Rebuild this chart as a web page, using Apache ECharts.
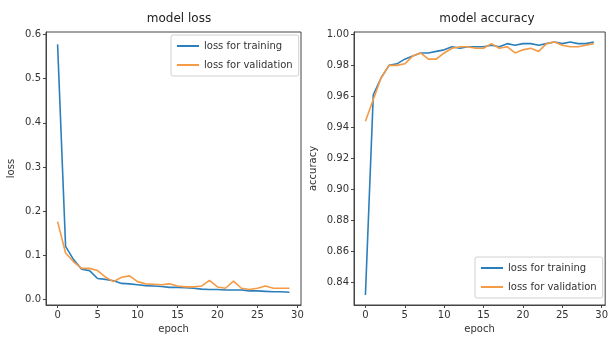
<!doctype html>
<html>
<head>
    <meta charset="UTF-8">
    <title>model loss / model accuracy</title>
    <script src="https://cdn.jsdelivr.net/npm/echarts@6/dist/echarts.min.js"></script>
    <style>
        html, body { margin: 0; padding: 0; background: #fff; }
        #main { width: 611px; height: 345px; }
    </style>
</head>
<body>
<div id="main"></div>
<script type="text/javascript">
    // epochs 0..29
    var epochs = [];
    for (var i = 0; i < 30; i++) epochs.push(i);

    var lossTrain = [0.578, 0.120, 0.090, 0.068, 0.065, 0.047, 0.045, 0.042, 0.036, 0.035,
        0.033, 0.031, 0.030, 0.029, 0.027, 0.027, 0.026, 0.025, 0.023, 0.022,
        0.022, 0.021, 0.021, 0.021, 0.019, 0.019, 0.018, 0.017, 0.017, 0.016];
    var lossVal = [0.176, 0.105, 0.085, 0.070, 0.070, 0.065, 0.050, 0.040, 0.050, 0.053,
        0.040, 0.035, 0.034, 0.033, 0.035, 0.030, 0.028, 0.028, 0.030, 0.043,
        0.028, 0.025, 0.041, 0.025, 0.022, 0.025, 0.030, 0.025, 0.025, 0.025];
    var accTrain = [0.832, 0.961, 0.972, 0.980, 0.981, 0.984, 0.986, 0.988, 0.988, 0.989,
        0.990, 0.992, 0.991, 0.992, 0.992, 0.992, 0.993, 0.992, 0.994, 0.993,
        0.994, 0.994, 0.993, 0.994, 0.995, 0.994, 0.995, 0.994, 0.994, 0.995];
    var accVal = [0.944, 0.958, 0.972, 0.980, 0.980, 0.981, 0.986, 0.988, 0.984, 0.984,
        0.988, 0.991, 0.992, 0.992, 0.991, 0.991, 0.994, 0.991, 0.992, 0.988,
        0.990, 0.991, 0.989, 0.994, 0.995, 0.993, 0.992, 0.992, 0.993, 0.994];

    var xTicks = [0, 5, 10, 15, 20, 25, 30];
    var lossTicks = [0, 0.1, 0.2, 0.3, 0.4, 0.5, 0.6];
    var accTicks = [0.84, 0.86, 0.88, 0.90, 0.92, 0.94, 0.96, 0.98, 1.00];

    var blue = '#2b7fbb';
    var orange = '#f59a45';
    var font = 'DejaVu Sans';

    function pairs(ys) {
        return ys.map(function (y, i) { return [epochs[i], y]; });
    }

    function xAxis(idx) {
        return {
            type: 'value', gridIndex: idx, min: -1.45, max: 30.45,
            name: 'epoch', nameLocation: 'middle', nameGap: 19,
            nameTextStyle: {color: '#333', fontSize: 10, fontFamily: font},
            splitLine: {show: false},
            axisLine: {onZero: false, lineStyle: {color: '#444'}},
            axisTick: {customValues: xTicks, length: 3, lineStyle: {color: '#444'}},
            axisLabel: {customValues: xTicks, color: '#333', fontSize: 10, fontFamily: font, margin: 5}
        };
    }

    function yAxis(idx, mn, mx, ticks, dec, name, gap) {
        return {
            type: 'value', gridIndex: idx, min: mn, max: mx,
            name: name, nameLocation: 'middle', nameGap: gap, nameRotate: 90,
            nameTextStyle: {color: '#333', fontSize: 10, fontFamily: font},
            splitLine: {show: false},
            axisLine: {show: true, onZero: false, lineStyle: {color: '#444'}},
            axisTick: {show: true, customValues: ticks, length: 3, lineStyle: {color: '#444'}},
            axisLabel: {
                customValues: ticks, color: '#333', fontSize: 10, fontFamily: font, margin: 5,
                formatter: function (v) { return v.toFixed(dec); }
            }
        };
    }

    function legend(left, top) {
        return {
            orient: 'vertical', left: left, top: top,
            data: ['loss for training', 'loss for validation'],
            icon: 'rect', itemWidth: 22, itemHeight: 2, itemGap: 9,
            borderColor: '#d0d0d0', borderWidth: 1, borderRadius: 2,
            padding: [6, 6, 6, 6], backgroundColor: '#fff',
            textStyle: {color: '#333', fontSize: 10, fontFamily: font}
        };
    }

    function line(name, xi, data, color) {
        return {
            name: name, type: 'line', xAxisIndex: xi, yAxisIndex: xi,
            data: pairs(data), symbol: 'none', color: color,
            lineStyle: {width: 1.6, color: color}, animation: false
        };
    }

    var myChart = echarts.init(document.getElementById('main'));
    var option = {
        backgroundColor: '#fff',
        animation: false,
        title: [
            {text: 'model loss', left: 174, top: 8, textAlign: 'center',
                textStyle: {fontSize: 12, fontWeight: 'normal', color: '#222', fontFamily: font}},
            {text: 'model accuracy', left: 482, top: 8, textAlign: 'center',
                textStyle: {fontSize: 12, fontWeight: 'normal', color: '#222', fontFamily: font}}
        ],
        grid: [
            {left: 46, top: 32, width: 255, height: 273, show: true, borderColor: '#444', borderWidth: 1},
            {left: 354, top: 32, width: 255, height: 273, show: true, borderColor: '#444', borderWidth: 1}
        ],
        legend: [legend(171, 35), legend(475, 257)],
        xAxis: [xAxis(0), xAxis(1)],
        yAxis: [
            yAxis(0, -0.013, 0.606, lossTicks, 1, 'loss', 30),
            yAxis(1, 0.8256, 1.0015, accTicks, 2, 'accuracy', 36)
        ],
        series: [
            line('loss for training', 0, lossTrain, blue),
            line('loss for validation', 0, lossVal, orange),
            line('loss for training', 1, accTrain, blue),
            line('loss for validation', 1, accVal, orange)
        ]
    };
    myChart.setOption(option);
</script>
</body>
</html>
